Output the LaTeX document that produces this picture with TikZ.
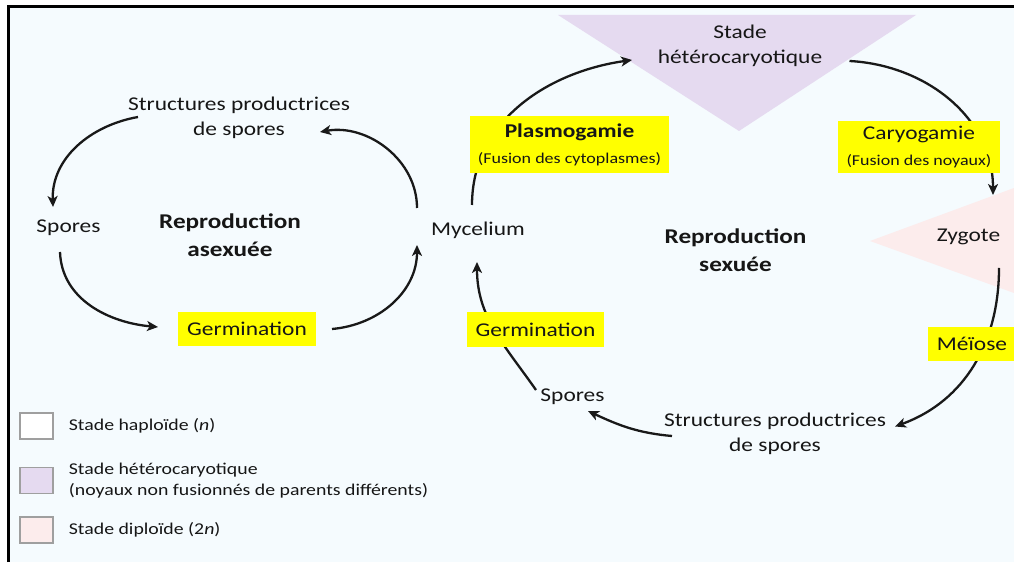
\documentclass[tikz,border=0pt]{standalone}
\usepackage{fontspec}
\setmainfont{Carlito}[FakeStretch=1.2]
\usetikzlibrary{arrows.meta,positioning}
\definecolor{bgblue}{RGB}{245,251,254}
\definecolor{hetpurple}{RGB}{229,218,240}
\definecolor{dippink}{RGB}{252,236,236}
\definecolor{hlyellow}{RGB}{255,255,0}
\definecolor{txt}{RGB}{22,22,22}
\newcommand{\mainsz}{\fontsize{19.5}{25}\selectfont}
\newcommand{\smallsz}{\fontsize{15}{18}\selectfont}
\newcommand{\titlesz}{\fontsize{21}{28}\selectfont\bfseries}
\newcommand{\legsz}{\fontsize{16.5}{21}\selectfont}
\pgfdeclarelayer{shade}
\pgfdeclarelayer{links}
\pgfsetlayers{shade,links,main}

\begin{document}
\begin{tikzpicture}[x=1pt, y=1pt,
  every node/.style={font=\mainsz, text=txt},
  lbl/.style={align=center, inner sep=0pt},
  title/.style={align=center, inner sep=0pt, font=\titlesz},
  hl/.style={fill=hlyellow, align=center, inner sep=0pt},
  arr/.style={-{Stealth[length=11pt, width=10pt, inset=3pt]}, line width=2.3pt, black!90},
  legbox/.style={draw=gray!75, line width=1.4pt, minimum width=33pt, minimum height=26pt, inner sep=0pt},
  legtxt/.style={font=\legsz, align=left, inner sep=0pt}]
\useasboundingbox (0,0) rectangle (1014,562);

% frame and stage shading
\begin{pgfonlayer}{shade}
\fill[bgblue] (8,0) rectangle (1014,555);
\draw[line width=3pt] (8,0) -- (8,555) -- (1014,555);
\fill[hetpurple] (558,547) -- (916,547) -- (739,431) -- cycle;
\fill[dippink] (870,321) -- (1014,374) -- (1014,269) -- cycle;
\end{pgfonlayer}

% asexual cycle
\node[lbl] (strA) at (239,444) {Structures productrices\\de spores};
\node[lbl] (sporA) at (68.5,334) {Spores};
\node[title] (reprA) at (230,327) {Reproduction\\asexuée};
\node[lbl] (myc) at (478,332) {Mycelium};
\node[hl, minimum width=138pt, minimum height=34pt] (germA) at (247,233) {Germination};

% sexual cycle
\node[hl, minimum width=199pt, minimum height=57pt] (plasmo) at (569.5,417.5)
  {\textbf{Plasmogamie}\\[1pt]{\smallsz (Fusion des cytoplasmes)}};
\node[lbl] (hetero) at (740,516) {Stade\\hétérocaryotique};
\node[hl, minimum width=162pt, minimum height=52pt] (caryo) at (919,415)
  {Caryogamie\\[1pt]{\smallsz (Fusion des noyaux)}};
\node[lbl] (zyg) at (968.5,325) {Zygote};
\node[title] (reprS) at (735.5,312) {Reproduction\\sexuée};
\node[hl, minimum width=88pt, minimum height=34pt] (meiose) at (972,218) {Méïose};
\node[lbl] (strS) at (775,128) {Structures productrices\\de spores};
\node[lbl] (sporS) at (572.5,165) {Spores};
\node[hl, minimum width=137pt, minimum height=35pt] (germS) at (535.5,232.5) {Germination};

% legend
\node[legbox, fill=white] (hapbox) at (36.5,136) {};
\node[legbox, fill=hetpurple] (hetbox) at (36.5,81.7) {};
\node[legbox, fill=dippink] (dipbox) at (36.5,32) {};
\node[legtxt, right=15pt of hapbox] (haptxt) {Stade haploïde (\textit{n})};
\node[legtxt, right=15pt of hetbox] (hettxt) {Stade hétérocaryotique\\(noyaux non fusionnés de parents différents)};
\node[legtxt, right=15pt of dipbox] (diptxt) {Stade diploïde (2\textit{n})};

\begin{pgfonlayer}{links}
\draw[arr] ([shift={(-101,1)}]strA.center) to[out=190, in=92] ([shift={(-15.5,21)}]sporA.center);
\draw[arr] ([shift={(-8.5,-24)}]sporA.center) to[out=-88, in=175] ([shift={(-89,2)}]germA.center);
\draw[arr] ([shift={(85,0)}]germA.center) to[out=5, in=-90] ([shift={(-61,-15)}]myc.center);
\draw[arr] ([shift={(-61,22)}]myc.center) to[out=90, in=10] ([shift={(81,-14)}]strA.center);
\draw[arr] ([shift={(-6,25)}]myc.center) to[out=90, in=188] ([shift={(-108,-14)}]hetero.center);
\draw[arr] ([shift={(109.5,-15)}]hetero.center) to[out=-3, in=90] ([shift={(24.5,42)}]zyg.center);
\draw[arr] ([shift={(30.5,-31)}]zyg.center) to[out=-90, in=20] ([shift={(120,7.5)}]strS.center);
\draw[arr] ([shift={(-103,-2)}]strS.center) to[out=175, in=-25] ([shift={(15.5,-14)}]sporS.center);
\draw[arr] ([shift={(-36.5,7)}]sporS.center) to[out=125, in=-90] ([shift={(-1,-32)}]myc.center);
\end{pgfonlayer}
\end{tikzpicture}
\end{document}
